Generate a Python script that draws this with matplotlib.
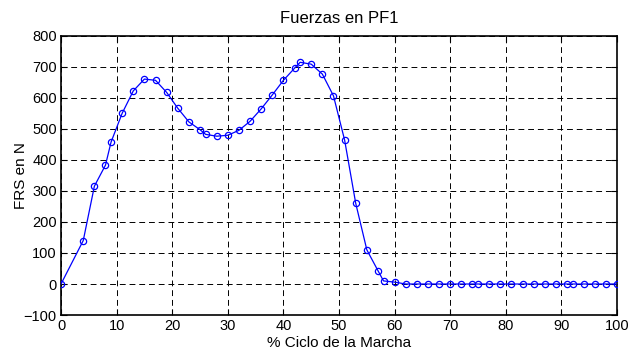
import matplotlib
matplotlib.use("Agg")
import matplotlib.pyplot as plt

x_pct = [0, 4, 6, 8, 9, 11, 13, 15, 17, 19, 21, 23, 25, 26, 28, 30, 32, 34, 36, 38,
         40, 42, 43, 45, 47, 49, 51, 53, 55, 57, 58, 60, 62, 64, 66, 68, 70, 72, 74,
         75, 77, 79, 81, 83, 85, 87, 89, 91, 92, 94, 96, 98, 100]
frs = [0, 140, 315, 383, 457, 550, 622, 660, 656, 617, 566, 522, 497, 482, 476, 479,
       495, 524, 564, 609, 656, 695, 714, 708, 676, 606, 464, 260, 110, 43, 10, 6,
       0, 0, 0, 0, 0, 0, 0, 0, 0, 0, 0, 0, 0, 0, 0, 0, 0, 0, 0, 0, 0]
xticks = [0, 10, 20, 30, 40, 50, 60, 70, 80, 90, 100]
yticks = [-100, 0, 100, 200, 300, 400, 500, 600, 700, 800]

plt.rcParams['font.family'] = ['Liberation Sans', 'DejaVu Sans']

fig = plt.figure(figsize=(6.29, 3.56), dpi=100)
ax = fig.add_axes([0.097, 0.115, 0.884, 0.785])
ax.plot(x_pct, frs, color='#0000ff', lw=0.9, marker='o', markersize=4.5,
        markerfacecolor='none', markeredgecolor='#0000ff', markeredgewidth=0.9,
        zorder=3)
ax.set_xlim(0, 100)
ax.set_ylim(-100, 800)
ax.set_xticks(xticks)
ax.set_yticks(yticks)
ax.grid(True, color='black', linestyle=(0, (6, 4)), linewidth=0.7)
ax.tick_params(direction='in', top=True, right=True, labelsize=10.5, length=4,
               width=0.8, pad=3)
for s in ax.spines.values():
    s.set_linewidth(1.2)
ax.set_title('Fuerzas en PF1', fontsize=12, pad=9)
ax.set_xlabel('% Ciclo de la Marcha', fontsize=11, labelpad=2)
ax.set_ylabel('FRS en N', fontsize=11)
ax.yaxis.set_label_coords(-0.059, 0.5)
fig.savefig('out.png', dpi=100)
